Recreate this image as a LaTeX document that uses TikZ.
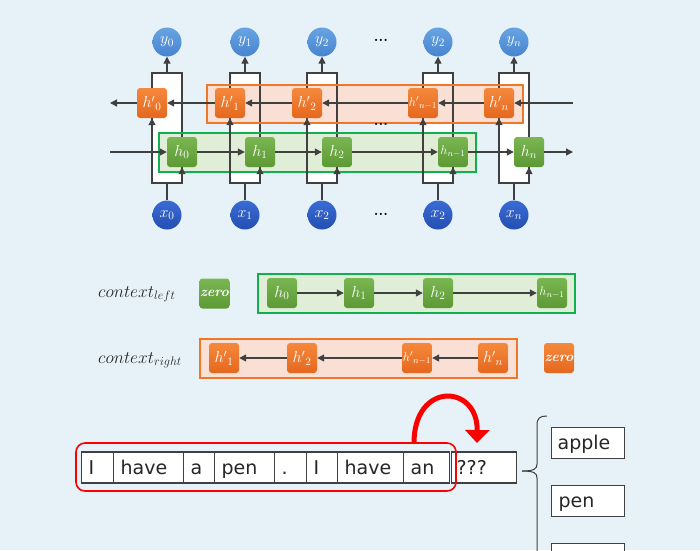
\RequirePackage{fix-cm}
\documentclass[tikz,border=0pt]{standalone}
\usepackage{fontspec}
\newfontfamily\wordfont{DejaVu Sans}
\usetikzlibrary{arrows.meta}
\definecolor{bg}{RGB}{230,242,248}
\definecolor{lineg}{RGB}{64,64,64}
\definecolor{grnT}{RGB}{122,182,82}
\definecolor{grnB}{RGB}{92,152,52}
\definecolor{orgT}{RGB}{245,136,60}
\definecolor{orgB}{RGB}{228,104,30}
\definecolor{yT}{RGB}{104,164,226}
\definecolor{yB}{RGB}{70,132,208}
\definecolor{xT}{RGB}{58,108,212}
\definecolor{xB}{RGB}{36,78,178}
\definecolor{hlo}{RGB}{240,118,40}
\definecolor{hlofill}{RGB}{250,224,212}
\definecolor{hlg}{RGB}{16,176,80}
\definecolor{hlgfill}{RGB}{224,238,216}
\definecolor{redc}{RGB}{250,0,0}
\tikzset{
  hn/.style={rounded corners=3pt, minimum width=30pt, minimum height=30pt, inner sep=0pt,
    top color=grnT, bottom color=grnB, draw=none, text=white, font=\fontsize{16}{18}\selectfont},
  hp/.style={hn, top color=orgT, bottom color=orgB},
  small/.style={font=\fontsize{12.5}{14}\selectfont},
  yc/.style={circle, minimum size=29pt, inner sep=0pt, top color=yT, bottom color=yB,
    draw=none, text=white, font=\fontsize{16}{18}\selectfont},
  xc/.style={yc, top color=xT, bottom color=xB},
  con/.style={draw=lineg, line width=1.3pt, -{Triangle[length=7pt,width=7pt]}},
  ln/.style={draw=lineg, line width=1.3pt},
  frm/.style={draw=lineg, line width=1.6pt},
  dots/.style={font=\bfseries\fontsize{15}{15}\selectfont, inner sep=0pt},
  zeronode/.style={font=\bfseries\itshape\fontsize{14}{16}\selectfont},
  ctx/.style={anchor=base west, inner sep=0pt, text=black!85, font=\fontsize{17.5}{20}\selectfont},
  wbox/.style={draw=lineg, line width=1.2pt, fill=white, minimum height=31pt, inner xsep=7pt,
    inner ysep=0pt, anchor=west, align=left, text height=16pt, text depth=3pt,
    text=black!85, font=\wordfont\fontsize{19}{22}\selectfont},
}
\begin{document}
\begin{tikzpicture}[x=1pt,y=-1pt]
\useasboundingbox (0,0) rectangle (700,550);
\fill[bg] (0,0) rectangle (700,550);
\clip (0,0) rectangle (700,550);

% ---------- top diagram ----------
\foreach \L/\R in {152/182,230/260,307/337,423/453,499/529}
  \fill[white] (\L,73) rectangle (\R,183);
\fill[hlofill] (207,85) rectangle (523,123);
\fill[hlgfill] (159,133) rectangle (476,172);
\foreach \L/\R in {152/182,230/260,307/337,423/453,499/529}
  \draw[frm] (\L,73) rectangle (\R,183);
\draw[hlo, line width=2.6pt] (207,85) rectangle (523,123);
\draw[hlg, line width=2.6pt] (159,133) rectangle (476,172);

\node[yc] (y0) at (167,42) {$y_0$};
\node[yc] (y1) at (245,42) {$y_1$};
\node[yc] (y2) at (322,42) {$y_2$};
\node[yc] (y3) at (438,42) {$y_2$};
\node[yc] (y4) at (514,42) {$y_n$};
\node[xc] (x0) at (167,215) {$x_0$};
\node[xc] (x1) at (245,215) {$x_1$};
\node[xc] (x2) at (322,215) {$x_2$};
\node[xc] (x3) at (438,215) {$x_2$};
\node[xc] (x4) at (514,215) {$x_n$};
\node[hp] (p0) at (152,103) {$h'{}_0$};
\node[hp] (p1) at (230,103) {$h'{}_1$};
\node[hp] (p2) at (307,103) {$h'{}_2$};
\node[hp,small] (p3) at (423,103) {$h'{}_{n-1}$};
\node[hp] (p4) at (499,103) {$h'{}_n$};
\node[hn] (h0) at (182,152) {$h_0$};
\node[hn] (h1) at (260,152) {$h_1$};
\node[hn] (h2) at (337,152) {$h_2$};
\node[hn,small] (h3) at (453,152) {$h_{n-1}$};
\node[hn] (h4) at (529,152) {$h_n$};

\node[dots] (d1) at (381,40) {...};
\node[dots] (d2) at (381,124) {...};
\node[dots] (d3) at (381,214) {...};

\foreach \i/\L/\R/\C in {0/152/182/167,1/230/260/245,2/307/337/322,3/423/453/438,4/499/529/514}{
  \coordinate (ft\i) at (\C,73);
  \coordinate (fb\i) at (\C,183);
  \coordinate (fl\i) at (\L,183);
  \coordinate (fr\i) at (\R,183);
}
\foreach \i in {0,...,4}{
  \draw[con] (ft\i) -- (y\i);
  \draw[ln] (x\i) -- (fb\i);
  \draw[con] (fl\i) -- (p\i);
  \draw[con] (fr\i) -- (h\i);
}
\coordinate (fin) at (110,152);
\coordinate (fout) at (573,152);
\coordinate (bin) at (573,103);
\coordinate (bout) at (110,103);
\draw[con] (fin) -- (h0);
\draw[con] (h0) -- (h1);
\draw[con] (h1) -- (h2);
\draw[con] (h2) -- (h3);
\draw[con] (h3) -- (h4);
\draw[con] (h4) -- (fout);
\draw[con] (bin) -- (p4);
\draw[con] (p4) -- (p3);
\draw[con] (p3) -- (p2);
\draw[con] (p2) -- (p1);
\draw[con] (p1) -- (p0);
\draw[con] (p0) -- (bout);

% ---------- context rows ----------
\node[ctx] (cl) at (98,297) {$context_{left}$};
\node[ctx] (cr) at (98,363) {$context_{right}$};
\node[hn,zeronode] (zg) at (214.5,293.5) {zero};
\fill[hlgfill] (258,274) rectangle (575,313);
\draw[hlg, line width=2.6pt] (258,274) rectangle (575,313);
\node[hn] (mh0) at (282,293) {$h_0$};
\node[hn] (mh1) at (359,293) {$h_1$};
\node[hn] (mh2) at (438,293) {$h_2$};
\node[hn,small] (mh3) at (552,293) {$h_{n-1}$};
\draw[con] (mh0) -- (mh1);
\draw[con] (mh1) -- (mh2);
\draw[con] (mh2) -- (mh3);

\fill[hlofill] (200,339) rectangle (517,378);
\draw[hlo, line width=2.6pt] (200,339) rectangle (517,378);
\node[hp] (mp1) at (224,358) {$h'{}_1$};
\node[hp] (mp2) at (302,358) {$h'{}_2$};
\node[hp,small] (mp3) at (417,358) {$h'{}_{n-1}$};
\node[hp] (mp4) at (493,358) {$h'{}_n$};
\node[hp,zeronode] (zo) at (559,358) {zero};
\draw[con] (mp4) -- (mp3);
\draw[con] (mp3) -- (mp2);
\draw[con] (mp2) -- (mp1);

% ---------- sentence ----------
\node[wbox, text width=18pt] (w1) at (81,467.5) {I};
\node[wbox, text width=56pt] (w2) at (113,467.5) {have};
\node[wbox, text width=17pt] (w3) at (183,467.5) {a};
\node[wbox, text width=46pt] (w4) at (214,467.5) {pen};
\node[wbox, text width=18pt] (w5) at (274,467.5) {.};
\node[wbox, text width=17pt] (w6) at (306,467.5) {I};
\node[wbox, text width=52pt] (w7) at (337,467.5) {have};
\node[wbox, text width=32pt] (w8) at (403,467.5) {an};
\node[wbox, inner xsep=5pt, text width=55pt] (w9) at (451,467.5) {???};
\draw[redc, line width=1.6pt, rounded corners=9pt] (76,443) rectangle (456,491);

\coordinate (ra) at (414,443);
\coordinate (rb) at (477,443);
\draw[redc, line width=5pt, -{Triangle[length=13pt,width=24pt]}]
  (ra) .. controls (414,381) and (478,384) .. (rb);

% ---------- candidates ----------
\coordinate (bt) at (547,416);
\coordinate (bm) at (522,471);
\coordinate (bb) at (537,560);
\draw[lineg, line width=1pt] (bt) .. controls (540,416) and (537,418) .. (537,425)
  -- (537,464) .. controls (537,469) and (534,471) .. (bm);
\draw[lineg, line width=1pt] (bm) .. controls (534,471) and (537,473) .. (537,478) -- (bb);
\node[wbox, inner xsep=6pt, text width=61pt] (c1) at (551,443) {apple};
\node[wbox, text width=59pt] (c2) at (551,501) {pen};
\node[wbox, text width=59pt] (c3) at (551,559) {};
\end{tikzpicture}
\end{document}
